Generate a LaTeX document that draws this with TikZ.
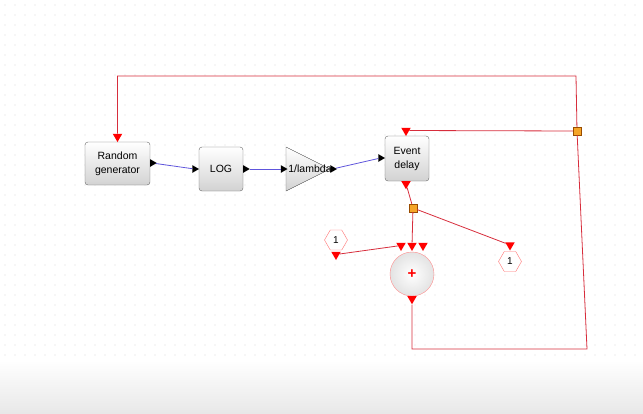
\documentclass[tikz,border=0pt]{standalone}
\usepackage{fontspec}
\setmainfont{Liberation Sans}
\usetikzlibrary{shapes.geometric}
\definecolor{evred}{RGB}{215,45,60}
\definecolor{datablue}{RGB}{95,85,220}
\definecolor{splitorange}{RGB}{245,165,40}

\begin{document}
\begin{tikzpicture}[x=1pt,y=-1pt,
    blk/.style={draw=gray!80!black,rounded corners=3pt,top color=white,bottom color=gray!35,
      align=center,inner sep=0pt,font=\fontsize{10.5}{14}\selectfont},
    dataport/.style={regular polygon,regular polygon sides=3,shape border rotate=-90,
      fill=black,inner sep=0pt,minimum size=9pt},
    evport/.style={regular polygon,regular polygon sides=3,shape border rotate=180,
      fill=red,inner sep=0pt,minimum size=11pt},
    evline/.style={draw=evred,line width=0.8pt},
    dataline/.style={draw=datablue,line width=0.8pt},
    splitpt/.style={draw=orange!60!black,fill=splitorange,minimum size=8pt,inner sep=0pt,line width=0.4pt},
    hexblk/.style={regular polygon,regular polygon sides=6,draw=red!55,fill=white,
      minimum size=23pt,inner sep=0pt,font=\fontsize{10}{12}\selectfont}]
    \path[use as bounding box] (0,0) rectangle (643,413);
    % grid and screen bottom
    \foreach \x in {5,15,...,635}
      \foreach \y in {5,15,...,355}
        \fill[gray!30] (\x,\y) circle (0.6);
    \fill[top color=white,bottom color=gray!18] (0,360) rectangle (643,413);
    % blocks
    \node[blk,minimum width=65pt,minimum height=43pt] (rg) at (117.5,163.5) {Random\\generator};
    \node[blk,minimum width=44pt,minimum height=44pt] (log) at (221,169) {LOG};
    \filldraw[draw=gray!80!black,top color=white,bottom color=gray!35] (286,147) -- (330,169) -- (286,191) -- cycle;
    \node[font=\fontsize{10.5}{12}\selectfont] (gain) at (310,169) {1/lambda};
    \node[blk,minimum width=44pt,minimum height=45pt] (ed) at (407,158.5) {Event\\delay};
    \node[circle,draw=red!45,inner color=white,outer color=gray!22,minimum size=44pt,
      text=red,font=\fontsize{15}{15}\selectfont\bfseries] (sum) at (412,274) {+};
    \node[hexblk] (one1) at (336,240) {1};
    \node[hexblk] (one2) at (510,261.5) {1};
    % ports
    \node[dataport] (rgout) at (152.25,163) {};
    \node[dataport] (login) at (194.5,169) {};
    \node[dataport] (logout) at (245.25,169) {};
    \node[dataport] (gainin) at (283,169) {};
    \node[dataport] (gainout) at (332.5,169) {};
    \node[dataport] (edin) at (380.5,158) {};
    \node[evport] (rgin) at (117.5,136.5) {};
    \node[evport] (edtop) at (406,130.5) {};
    \node[evport] (edbot) at (406,183.75) {};
    \node[evport] (sumin1) at (401,245.5) {};
    \node[evport] (sumin2) at (412,245.5) {};
    \node[evport] (sumin3) at (423,245.5) {};
    \node[evport] (sumout) at (412,298.75) {};
    \node[evport] (one1out) at (336,254.5) {};
    \node[evport] (one2in) at (510,245) {};
    % split points and corners
    \node[splitpt] (s1) at (577,131) {};
    \node[splitpt] (s2) at (413,208) {};
    \coordinate (tr) at (576,76);
    \coordinate (tl) at (117.5,76);
    \coordinate (bl) at (412,349);
    \coordinate (br) at (587,349);
    % regular links
    \draw[dataline] (rgout) to (login);
    \draw[dataline] (logout) to (gainin);
    \draw[dataline] (gainout) to (edin);
    % activation links
    \draw[evline] (s1) to (edtop);
    \draw[evline] (s1) -- (tr) -- (tl) -- (rgin);
    \draw[evline] (edbot) to (s2);
    \draw[evline] (s2) to (sumin2);
    \draw[evline] (s2) to (one2in);
    \draw[evline] (one1out) to (sumin1);
    \draw[evline] (sumout) -- (bl) -- (br) -- (s1);
\end{tikzpicture}
\end{document}
